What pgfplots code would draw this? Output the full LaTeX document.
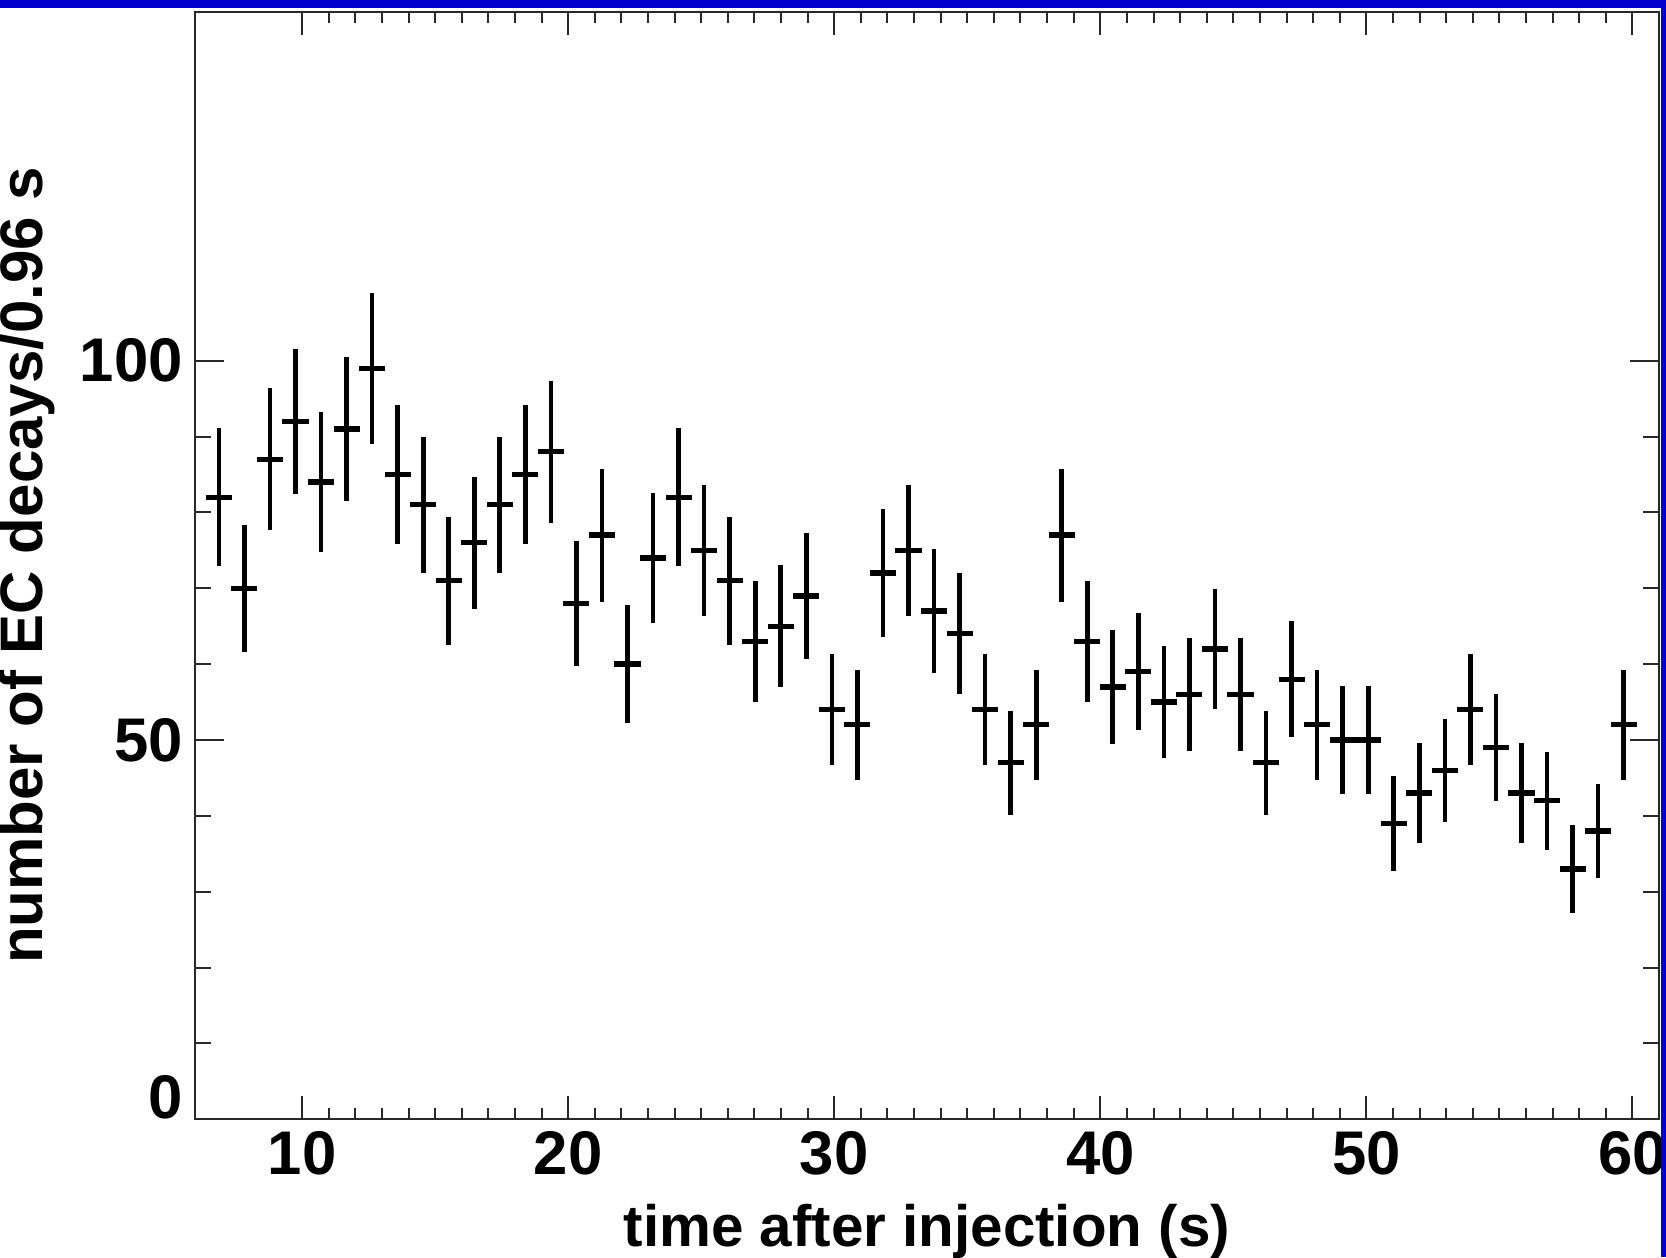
\documentclass[border=0pt]{standalone}
\usepackage{pgfplots}
\pgfplotsset{compat=1.18}
\usepackage{pgfplotstable}
\usepackage{fontspec}
\setmainfont{Liberation Sans}
\definecolor{frameblue}{RGB}{0,0,204}
\definecolor{axisgray}{RGB}{40,40,40}

\pgfplotstableread{
x y ey
6.87 82 9.06
7.83 70 8.37
8.79 87 9.33
9.75 92 9.59
10.71 84 9.17
11.67 91 9.54
12.63 99 9.95
13.59 85 9.22
14.55 81 9.00
15.51 71 8.43
16.47 76 8.72
17.43 81 9.00
18.39 85 9.22
19.35 88 9.38
20.31 68 8.25
21.27 77 8.77
22.23 60 7.75
23.19 74 8.60
24.15 82 9.06
25.11 75 8.66
26.07 71 8.43
27.03 63 7.94
27.99 65 8.06
28.95 69 8.31
29.91 54 7.35
30.87 52 7.21
31.83 72 8.49
32.79 75 8.66
33.75 67 8.19
34.71 64 8.00
35.67 54 7.35
36.63 47 6.86
37.59 52 7.21
38.55 77 8.77
39.51 63 7.94
40.47 57 7.55
41.43 59 7.68
42.39 55 7.42
43.35 56 7.48
44.31 62 7.87
45.27 56 7.48
46.23 47 6.86
47.19 58 7.62
48.15 52 7.21
49.11 50 7.07
50.07 50 7.07
51.03 39 6.24
51.99 43 6.56
52.95 46 6.78
53.91 54 7.35
54.87 49 7.00
55.83 43 6.56
56.79 42 6.48
57.75 33 5.74
58.71 38 6.16
59.67 52 7.21
}\datatable

\pgfplotsset{
  commonax/.style={
    at={(0,0)}, anchor=south west,
    scale only axis, width=439.3pt, height=332.3pt,
    xmin=5.96, xmax=61, ymin=0, ymax=146,
    axis line style={line width=0.6pt, axisgray},
    tick style={line width=0.6pt, axisgray},
    tick align=inside,
  }
}

\begin{document}
\begin{tikzpicture}
\begin{axis}[
  commonax,
  xtick={10,20,30,40,50,60},
  xticklabels={10,20,30,40,50,60},
  minor x tick num=9,
  ytick=\empty,
  major tick length=6.9pt, minor tick length=3.5pt,
  xticklabel style={font=\fontsize{18.5}{20}\selectfont\bfseries},
  xlabel={time after injection (s)},
  xlabel style={font=\fontsize{17.5}{20}\selectfont\bfseries,
    at={(axis description cs:0.5,-0.1150)}, anchor=base},
  ylabel={number of EC decays/0.96 s},
  ylabel style={font=\fontsize{18}{20}\selectfont\bfseries,
    at={(axis description cs:-0.1039,0.5)}, anchor=base},
]
\addplot[draw=none, mark=none, forget plot,
  error bars/.cd, y dir=both, y explicit, error mark=none,
  error bar style={line width=1.4pt, black}]
  table[x=x, y=y, y error=ey] {\datatable};
\addplot[draw=none, mark=none, forget plot,
  error bars/.cd, x dir=both, x fixed=0.49, error mark=none,
  error bar style={line width=1.6pt, black}]
  table[x=x, y=y] {\datatable};
\end{axis}
\begin{axis}[
  commonax,
  xtick=\empty,
  ytick={0,50,100},
  yticklabels={{\raisebox{13.2pt}{0}},50,100},
  minor y tick num=4,
  major tick length=8.7pt, minor tick length=4.8pt,
  yticklabel style={font=\fontsize{18.5}{20}\selectfont\bfseries},
]
\end{axis}
\fill[frameblue] (-58.4pt,333.5pt) rectangle (441.4pt,335.8pt);
\fill[frameblue] (439.8pt,-41.3pt) rectangle (441.4pt,335.8pt);
\pgfresetboundingbox
\path[use as bounding box] (-58.4pt,-41.3pt) rectangle (441.4pt,335.8pt);
\end{tikzpicture}
\end{document}
